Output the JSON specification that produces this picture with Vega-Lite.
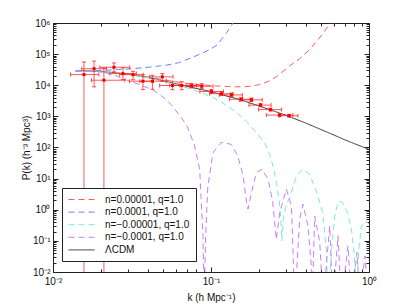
{
  "$schema": "https://vega.github.io/schema/vega-lite/v6.json",
  "autosize": "none",
  "width": 316,
  "height": 249,
  "padding": {"left": 53, "top": 23, "right": 40, "bottom": 35},
  "background": "white",
  "config": {
    "view": {"stroke": "#222", "strokeWidth": 1},
    "font": "Liberation Sans",
    "axis": {"labelFont": "Liberation Sans", "titleFont": "Liberation Sans", "labelFontSize": 10, "titleFontSize": 10, "titleFontWeight": "normal", "labelColor": "#111", "titleColor": "#111", "tickColor": "#222", "domain": false, "grid": false, "labelOverlap": false, "labelFlush": false}
  },
  "datasets": {
    "curves": [
      {"model": "ΛCDM", "k": 0.0139, "P": 29500}, {"model": "ΛCDM", "k": 0.016, "P": 29200}, {"model": "ΛCDM", "k": 0.02, "P": 27500}, {"model": "ΛCDM", "k": 0.025, "P": 25100}, {"model": "ΛCDM", "k": 0.03, "P": 22400}, {"model": "ΛCDM", "k": 0.04, "P": 17800}, {"model": "ΛCDM", "k": 0.05, "P": 13800}, {"model": "ΛCDM", "k": 0.06, "P": 11200}, {"model": "ΛCDM", "k": 0.07, "P": 9330}, {"model": "ΛCDM", "k": 0.085, "P": 7410}, {"model": "ΛCDM", "k": 0.1, "P": 6310}, {"model": "ΛCDM", "k": 0.12, "P": 4790}, {"model": "ΛCDM", "k": 0.15, "P": 3550}, {"model": "ΛCDM", "k": 0.2, "P": 2190}, {"model": "ΛCDM", "k": 0.25, "P": 1480}, {"model": "ΛCDM", "k": 0.3, "P": 1070}, {"model": "ΛCDM", "k": 0.4, "P": 603}, {"model": "ΛCDM", "k": 0.5, "P": 372}, {"model": "ΛCDM", "k": 0.6, "P": 251}, {"model": "ΛCDM", "k": 0.7, "P": 178}, {"model": "ΛCDM", "k": 0.85, "P": 120}, {"model": "ΛCDM", "k": 1.0, "P": 87},

      {"model": "n=0.00001, q=1.0", "k": 0.0139, "P": 29500}, {"model": "n=0.00001, q=1.0", "k": 0.02, "P": 27500}, {"model": "n=0.00001, q=1.0", "k": 0.03, "P": 22600}, {"model": "n=0.00001, q=1.0", "k": 0.04, "P": 18500}, {"model": "n=0.00001, q=1.0", "k": 0.05, "P": 15000}, {"model": "n=0.00001, q=1.0", "k": 0.06, "P": 12900}, {"model": "n=0.00001, q=1.0", "k": 0.07, "P": 11500}, {"model": "n=0.00001, q=1.0", "k": 0.085, "P": 10400}, {"model": "n=0.00001, q=1.0", "k": 0.1, "P": 9800}, {"model": "n=0.00001, q=1.0", "k": 0.12, "P": 9200}, {"model": "n=0.00001, q=1.0", "k": 0.14, "P": 8900}, {"model": "n=0.00001, q=1.0", "k": 0.16, "P": 8900}, {"model": "n=0.00001, q=1.0", "k": 0.185, "P": 9500}, {"model": "n=0.00001, q=1.0", "k": 0.21, "P": 11000}, {"model": "n=0.00001, q=1.0", "k": 0.236, "P": 14000}, {"model": "n=0.00001, q=1.0", "k": 0.26, "P": 19000}, {"model": "n=0.00001, q=1.0", "k": 0.286, "P": 28000}, {"model": "n=0.00001, q=1.0", "k": 0.32, "P": 45000}, {"model": "n=0.00001, q=1.0", "k": 0.364, "P": 71000}, {"model": "n=0.00001, q=1.0", "k": 0.4, "P": 110000}, {"model": "n=0.00001, q=1.0", "k": 0.44, "P": 180000}, {"model": "n=0.00001, q=1.0", "k": 0.5, "P": 400000}, {"model": "n=0.00001, q=1.0", "k": 0.56, "P": 890000}, {"model": "n=0.00001, q=1.0", "k": 0.6, "P": 1600000},

      {"model": "n=0.0001, q=1.0", "k": 0.0139, "P": 28000}, {"model": "n=0.0001, q=1.0", "k": 0.017, "P": 28800}, {"model": "n=0.0001, q=1.0", "k": 0.0207, "P": 30000}, {"model": "n=0.0001, q=1.0", "k": 0.026, "P": 32000}, {"model": "n=0.0001, q=1.0", "k": 0.032, "P": 34000}, {"model": "n=0.0001, q=1.0", "k": 0.037, "P": 36500}, {"model": "n=0.0001, q=1.0", "k": 0.045, "P": 40500}, {"model": "n=0.0001, q=1.0", "k": 0.053, "P": 45000}, {"model": "n=0.0001, q=1.0", "k": 0.062, "P": 52500}, {"model": "n=0.0001, q=1.0", "k": 0.075, "P": 76000}, {"model": "n=0.0001, q=1.0", "k": 0.089, "P": 110000}, {"model": "n=0.0001, q=1.0", "k": 0.1, "P": 148000}, {"model": "n=0.0001, q=1.0", "k": 0.11, "P": 200000}, {"model": "n=0.0001, q=1.0", "k": 0.116, "P": 290000}, {"model": "n=0.0001, q=1.0", "k": 0.126, "P": 500000}, {"model": "n=0.0001, q=1.0", "k": 0.136, "P": 890000}, {"model": "n=0.0001, q=1.0", "k": 0.142, "P": 1400000},

      {"model": "n=−0.00001, q=1.0", "k": 0.0139, "P": 29500}, {"model": "n=−0.00001, q=1.0", "k": 0.02, "P": 27500}, {"model": "n=−0.00001, q=1.0", "k": 0.03, "P": 22400}, {"model": "n=−0.00001, q=1.0", "k": 0.04, "P": 17600}, {"model": "n=−0.00001, q=1.0", "k": 0.05, "P": 13300}, {"model": "n=−0.00001, q=1.0", "k": 0.06, "P": 10300}, {"model": "n=−0.00001, q=1.0", "k": 0.07, "P": 8300}, {"model": "n=−0.00001, q=1.0", "k": 0.085, "P": 6000}, {"model": "n=−0.00001, q=1.0", "k": 0.1, "P": 4300}, {"model": "n=−0.00001, q=1.0", "k": 0.115, "P": 3000}, {"model": "n=−0.00001, q=1.0", "k": 0.13, "P": 2000}, {"model": "n=−0.00001, q=1.0", "k": 0.15, "P": 1150}, {"model": "n=−0.00001, q=1.0", "k": 0.171, "P": 620}, {"model": "n=−0.00001, q=1.0", "k": 0.194, "P": 300}, {"model": "n=−0.00001, q=1.0", "k": 0.219, "P": 140}, {"model": "n=−0.00001, q=1.0", "k": 0.235, "P": 60}, {"model": "n=−0.00001, q=1.0", "k": 0.247, "P": 25}, {"model": "n=−0.00001, q=1.0", "k": 0.26, "P": 7}, {"model": "n=−0.00001, q=1.0", "k": 0.27, "P": 2}, {"model": "n=−0.00001, q=1.0", "k": 0.276, "P": 0.6}, {"model": "n=−0.00001, q=1.0", "k": 0.281, "P": 0.1}, {"model": "n=−0.00001, q=1.0", "k": 0.287, "P": 0.5}, {"model": "n=−0.00001, q=1.0", "k": 0.3, "P": 1.5}, {"model": "n=−0.00001, q=1.0", "k": 0.315, "P": 2.5}, {"model": "n=−0.00001, q=1.0", "k": 0.347, "P": 12}, {"model": "n=−0.00001, q=1.0", "k": 0.382, "P": 20}, {"model": "n=−0.00001, q=1.0", "k": 0.42, "P": 14}, {"model": "n=−0.00001, q=1.0", "k": 0.464, "P": 4}, {"model": "n=−0.00001, q=1.0", "k": 0.51, "P": 0.8}, {"model": "n=−0.00001, q=1.0", "k": 0.537, "P": 0.05}, {"model": "n=−0.00001, q=1.0", "k": 0.55, "P": 0.001}, {"model": "n=−0.00001, q=1.0", "k": 0.58, "P": 0.05}, {"model": "n=−0.00001, q=1.0", "k": 0.61, "P": 0.8}, {"model": "n=−0.00001, q=1.0", "k": 0.645, "P": 1.9}, {"model": "n=−0.00001, q=1.0", "k": 0.68, "P": 1.7}, {"model": "n=−0.00001, q=1.0", "k": 0.73, "P": 0.8}, {"model": "n=−0.00001, q=1.0", "k": 0.774, "P": 0.24}, {"model": "n=−0.00001, q=1.0", "k": 0.81, "P": 0.03}, {"model": "n=−0.00001, q=1.0", "k": 0.83, "P": 0.001}, {"model": "n=−0.00001, q=1.0", "k": 0.86, "P": 0.05}, {"model": "n=−0.00001, q=1.0", "k": 0.895, "P": 0.3}, {"model": "n=−0.00001, q=1.0", "k": 0.94, "P": 0.42}, {"model": "n=−0.00001, q=1.0", "k": 0.97, "P": 0.4}, {"model": "n=−0.00001, q=1.0", "k": 1.0, "P": 0.35},

      {"model": "n=−0.0001, q=1.0", "k": 0.0139, "P": 29500}, {"model": "n=−0.0001, q=1.0", "k": 0.018, "P": 28500}, {"model": "n=−0.0001, q=1.0", "k": 0.021, "P": 26000}, {"model": "n=−0.0001, q=1.0", "k": 0.025, "P": 20500}, {"model": "n=−0.0001, q=1.0", "k": 0.0277, "P": 16000}, {"model": "n=−0.0001, q=1.0", "k": 0.032, "P": 12600}, {"model": "n=−0.0001, q=1.0", "k": 0.037, "P": 9500}, {"model": "n=−0.0001, q=1.0", "k": 0.043, "P": 7000}, {"model": "n=−0.0001, q=1.0", "k": 0.0475, "P": 5000}, {"model": "n=−0.0001, q=1.0", "k": 0.0534, "P": 3100}, {"model": "n=−0.0001, q=1.0", "k": 0.0575, "P": 2000}, {"model": "n=−0.0001, q=1.0", "k": 0.065, "P": 900}, {"model": "n=−0.0001, q=1.0", "k": 0.071, "P": 450}, {"model": "n=−0.0001, q=1.0", "k": 0.0785, "P": 120}, {"model": "n=−0.0001, q=1.0", "k": 0.0848, "P": 20}, {"model": "n=−0.0001, q=1.0", "k": 0.0868, "P": 1.7}, {"model": "n=−0.0001, q=1.0", "k": 0.089, "P": 0.14}, {"model": "n=−0.0001, q=1.0", "k": 0.0905, "P": 0.001}, {"model": "n=−0.0001, q=1.0", "k": 0.0925, "P": 0.14}, {"model": "n=−0.0001, q=1.0", "k": 0.0955, "P": 5.8}, {"model": "n=−0.0001, q=1.0", "k": 0.103, "P": 68}, {"model": "n=−0.0001, q=1.0", "k": 0.116, "P": 148}, {"model": "n=−0.0001, q=1.0", "k": 0.1346, "P": 126}, {"model": "n=−0.0001, q=1.0", "k": 0.148, "P": 52}, {"model": "n=−0.0001, q=1.0", "k": 0.16, "P": 12}, {"model": "n=−0.0001, q=1.0", "k": 0.168, "P": 1.7}, {"model": "n=−0.0001, q=1.0", "k": 0.1714, "P": 1.05}, {"model": "n=−0.0001, q=1.0", "k": 0.1803, "P": 3.5}, {"model": "n=−0.0001, q=1.0", "k": 0.1936, "P": 15.5}, {"model": "n=−0.0001, q=1.0", "k": 0.21, "P": 20}, {"model": "n=−0.0001, q=1.0", "k": 0.23, "P": 9.5}, {"model": "n=−0.0001, q=1.0", "k": 0.246, "P": 1.7}, {"model": "n=−0.0001, q=1.0", "k": 0.259, "P": 0.11}, {"model": "n=−0.0001, q=1.0", "k": 0.272, "P": 0.8}, {"model": "n=−0.0001, q=1.0", "k": 0.3, "P": 4.6}, {"model": "n=−0.0001, q=1.0", "k": 0.323, "P": 1.3}, {"model": "n=−0.0001, q=1.0", "k": 0.339, "P": 0.001}, {"model": "n=−0.0001, q=1.0", "k": 0.364, "P": 0.5}, {"model": "n=−0.0001, q=1.0", "k": 0.382, "P": 1.5}, {"model": "n=−0.0001, q=1.0", "k": 0.411, "P": 0.3}, {"model": "n=−0.0001, q=1.0", "k": 0.431, "P": 0.016}, {"model": "n=−0.0001, q=1.0", "k": 0.437, "P": 0.001}, {"model": "n=−0.0001, q=1.0", "k": 0.453, "P": 0.63}, {"model": "n=−0.0001, q=1.0", "k": 0.488, "P": 0.09}, {"model": "n=−0.0001, q=1.0", "k": 0.512, "P": 0.001}, {"model": "n=−0.0001, q=1.0", "k": 0.564, "P": 0.3}, {"model": "n=−0.0001, q=1.0", "k": 0.59, "P": 0.001}, {"model": "n=−0.0001, q=1.0", "k": 0.637, "P": 0.145}, {"model": "n=−0.0001, q=1.0", "k": 0.668, "P": 0.001}, {"model": "n=−0.0001, q=1.0", "k": 0.736, "P": 0.07}, {"model": "n=−0.0001, q=1.0", "k": 0.774, "P": 0.001}, {"model": "n=−0.0001, q=1.0", "k": 0.84, "P": 0.043}, {"model": "n=−0.0001, q=1.0", "k": 0.873, "P": 0.001}, {"model": "n=−0.0001, q=1.0", "k": 0.944, "P": 0.033}, {"model": "n=−0.0001, q=1.0", "k": 0.993, "P": 0.001}
    ],
    "points": [
      {"k": 0.0157, "P": 22000, "klo": 0.0129, "khi": 0.0195, "plo": 0.001, "phi": 56000},
      {"k": 0.0182, "P": 34000, "klo": 0.0152, "khi": 0.0218, "plo": 8900, "phi": 60000},
      {"k": 0.0210, "P": 14500, "klo": 0.0175, "khi": 0.0285, "plo": 0.001, "phi": 36000},
      {"k": 0.0243, "P": 37800, "klo": 0.0198, "khi": 0.0306, "plo": 27000, "phi": 52000},
      {"k": 0.0277, "P": 23700, "klo": 0.0229, "khi": 0.0337, "plo": 15200, "phi": 36000},
      {"k": 0.0321, "P": 21900, "klo": 0.0264, "khi": 0.0372, "plo": 15000, "phi": 28000},
      {"k": 0.0371, "P": 13500, "klo": 0.0305, "khi": 0.0430, "plo": 7200, "phi": 21900},
      {"k": 0.0426, "P": 13500, "klo": 0.0354, "khi": 0.0522, "plo": 7400, "phi": 21000},
      {"k": 0.0492, "P": 18600, "klo": 0.0409, "khi": 0.0575, "plo": 13500, "phi": 23700},
      {"k": 0.0570, "P": 9800, "klo": 0.0473, "khi": 0.0698, "plo": 7200, "phi": 13500},
      {"k": 0.0653, "P": 9800, "klo": 0.0548, "khi": 0.0809, "plo": 7200, "phi": 13000},
      {"k": 0.0755, "P": 9800, "klo": 0.0634, "khi": 0.0889, "plo": 8200, "phi": 11500},
      {"k": 0.0873, "P": 9300, "klo": 0.0733, "khi": 0.1030, "plo": 7800, "phi": 11200},
      {"k": 0.1007, "P": 6300, "klo": 0.0850, "khi": 0.1200, "plo": 5400, "phi": 7300},
      {"k": 0.1164, "P": 5350, "klo": 0.0980, "khi": 0.1380, "plo": 4700, "phi": 6100},
      {"k": 0.1346, "P": 4900, "klo": 0.1130, "khi": 0.1580, "plo": 4300, "phi": 5600},
      {"k": 0.1556, "P": 3550, "klo": 0.1310, "khi": 0.1830, "plo": 3100, "phi": 4000},
      {"k": 0.1800, "P": 3400, "klo": 0.1510, "khi": 0.2110, "plo": 3000, "phi": 3850},
      {"k": 0.2060, "P": 2300, "klo": 0.1740, "khi": 0.2400, "plo": 2050, "phi": 2600},
      {"k": 0.2380, "P": 1650, "klo": 0.2000, "khi": 0.2800, "plo": 1480, "phi": 1850},
      {"k": 0.2720, "P": 1100, "klo": 0.2240, "khi": 0.3300, "plo": 1000, "phi": 1220},
      {"k": 0.3120, "P": 1050, "klo": 0.2700, "khi": 0.3550, "plo": 950, "phi": 1160}
    ]
  },
  "layer": [
    {
      "data": {"name": "curves"},
      "mark": {"type": "line", "strokeWidth": 1, "clip": true},
      "encoding": {
        "x": {"field": "k", "type": "quantitative", "scale": {"type": "log", "domain": [0.01, 1], "nice": false},
          "axis": {"orient": "bottom", "title": "k (h Mpc⁻¹)", "values": [0.01,0.02,0.03,0.04,0.05,0.06,0.07,0.08,0.09,0.1,0.2,0.3,0.4,0.5,0.6,0.7,0.8,0.9,1],
            "labelExpr": "datum.value == 0.01 ? '10⁻²' : datum.value == 0.1 ? '10⁻¹' : datum.value == 1 ? '10⁰' : ''",
            "tickSize": {"condition": {"test": "datum.value == 0.01 || datum.value == 0.1 || datum.value == 1", "value": -5}, "value": -3},
            "labelPadding": 9, "titlePadding": 4}},
        "y": {"field": "P", "type": "quantitative", "scale": {"type": "log", "domain": [0.01, 1000000], "nice": false},
          "axis": {"orient": "left", "title": "P(k) (h⁻³ Mpc³)", "values": [0.01,0.02,0.03,0.04,0.05,0.06,0.07,0.08,0.09,0.1,0.2,0.3,0.4,0.5,0.6,0.7,0.8,0.9,1,2,3,4,5,6,7,8,9,10,20,30,40,50,60,70,80,90,100,200,300,400,500,600,700,800,900,1000,2000,3000,4000,5000,6000,7000,8000,9000,10000,20000,30000,40000,50000,60000,70000,80000,90000,100000,200000,300000,400000,500000,600000,700000,800000,900000,1000000],
            "labelExpr": "datum.value==0.01?'10⁻²':datum.value==0.1?'10⁻¹':datum.value==1?'10⁰':datum.value==10?'10¹':datum.value==100?'10²':datum.value==1000?'10³':datum.value==10000?'10⁴':datum.value==100000?'10⁵':datum.value==1000000?'10⁶':''",
            "tickSize": {"condition": {"test": "datum.value==0.01||datum.value==0.1||datum.value==1||datum.value==10||datum.value==100||datum.value==1000||datum.value==10000||datum.value==100000||datum.value==1000000", "value": -5}, "value": -3},
            "labelPadding": 8, "titlePadding": 1}},
        "color": {"field": "model", "type": "nominal",
          "scale": {"domain": ["n=0.00001, q=1.0", "n=0.0001, q=1.0", "n=−0.00001, q=1.0", "n=−0.0001, q=1.0", "ΛCDM"], "range": ["#ff5a5a", "#6a80ff", "#7debd0", "#c77dff", "#333333"]},
          "legend": {"title": null, "orient": "none", "legendX": 9, "legendY": 165, "strokeColor": "#222", "fillColor": "white", "padding": 6, "labelFont": "Liberation Sans", "labelFontSize": 10, "labelColor": "#111", "symbolType": "M-2.6,0H2.6", "symbolSize": 100, "symbolStrokeWidth": 1, "symbolOffset": 8, "labelOffset": 18, "rowPadding": 1.6}},
        "strokeDash": {"field": "model", "type": "nominal",
          "scale": {"domain": ["n=0.00001, q=1.0", "n=0.0001, q=1.0", "n=−0.00001, q=1.0", "n=−0.0001, q=1.0", "ΛCDM"], "range": [[6, 4], [6, 4], [6, 4], [6, 4], [1, 0]]},
          "legend": {"title": null, "orient": "none", "legendX": 9, "legendY": 165, "strokeColor": "#222", "fillColor": "white", "padding": 6, "labelFont": "Liberation Sans", "labelFontSize": 10, "labelColor": "#111", "symbolType": "M-2.6,0H2.6", "symbolSize": 100, "symbolStrokeWidth": 1, "symbolOffset": 8, "labelOffset": 18, "rowPadding": 1.6}}
      }
    },
    {
      "data": {"name": "points"},
      "mark": {"type": "rule", "color": "#ff2020", "opacity": 0.75, "strokeWidth": 1, "clip": true},
      "encoding": {
        "x": {"field": "k", "type": "quantitative", "scale": {"type": "log"}, "axis": null},
        "y": {"field": "plo", "type": "quantitative", "scale": {"type": "log"}, "axis": null},
        "y2": {"field": "phi"}
      }
    },
    {
      "data": {"name": "points"},
      "mark": {"type": "rule", "color": "#ff2020", "opacity": 0.75, "strokeWidth": 1, "clip": true},
      "encoding": {
        "x": {"field": "klo", "type": "quantitative", "scale": {"type": "log"}, "axis": null},
        "x2": {"field": "khi"},
        "y": {"field": "P", "type": "quantitative", "scale": {"type": "log"}, "axis": null}
      }
    },
    {
      "data": {"name": "points"},
      "transform": [{"fold": ["klo", "khi"], "as": ["end", "kv"]}],
      "mark": {"type": "tick", "orient": "vertical", "color": "#ff2020", "opacity": 0.8, "size": 4, "thickness": 1, "clip": true},
      "encoding": {
        "x": {"field": "kv", "type": "quantitative", "scale": {"type": "log"}, "axis": null},
        "y": {"field": "P", "type": "quantitative", "scale": {"type": "log"}, "axis": null}
      }
    },
    {
      "data": {"name": "points"},
      "transform": [{"fold": ["plo", "phi"], "as": ["end", "pv"]}],
      "mark": {"type": "tick", "orient": "horizontal", "color": "#ff2020", "opacity": 0.8, "size": 4, "thickness": 1, "clip": true},
      "encoding": {
        "x": {"field": "k", "type": "quantitative", "scale": {"type": "log"}, "axis": null},
        "y": {"field": "pv", "type": "quantitative", "scale": {"type": "log"}, "axis": null}
      }
    },
    {
      "data": {"name": "points"},
      "mark": {"type": "square", "color": "#ee0000", "opacity": 1, "size": 9, "clip": true},
      "encoding": {
        "x": {"field": "k", "type": "quantitative", "scale": {"type": "log"},
          "axis": {"orient": "top", "title": null, "labels": false, "values": [0.01,0.02,0.03,0.04,0.05,0.06,0.07,0.08,0.09,0.1,0.2,0.3,0.4,0.5,0.6,0.7,0.8,0.9,1],
            "tickSize": {"condition": {"test": "datum.value == 0.01 || datum.value == 0.1 || datum.value == 1", "value": -5}, "value": -3}}},
        "y": {"field": "P", "type": "quantitative", "scale": {"type": "log"},
          "axis": {"orient": "right", "title": null, "labels": false, "values": [0.01,0.02,0.03,0.04,0.05,0.06,0.07,0.08,0.09,0.1,0.2,0.3,0.4,0.5,0.6,0.7,0.8,0.9,1,2,3,4,5,6,7,8,9,10,20,30,40,50,60,70,80,90,100,200,300,400,500,600,700,800,900,1000,2000,3000,4000,5000,6000,7000,8000,9000,10000,20000,30000,40000,50000,60000,70000,80000,90000,100000,200000,300000,400000,500000,600000,700000,800000,900000,1000000],
            "tickSize": {"condition": {"test": "datum.value==0.01||datum.value==0.1||datum.value==1||datum.value==10||datum.value==100||datum.value==1000||datum.value==10000||datum.value==100000||datum.value==1000000", "value": -5}, "value": -3}}}
      }
    }
  ],
  "resolve": {"axis": {"x": "independent", "y": "independent"}}
}
